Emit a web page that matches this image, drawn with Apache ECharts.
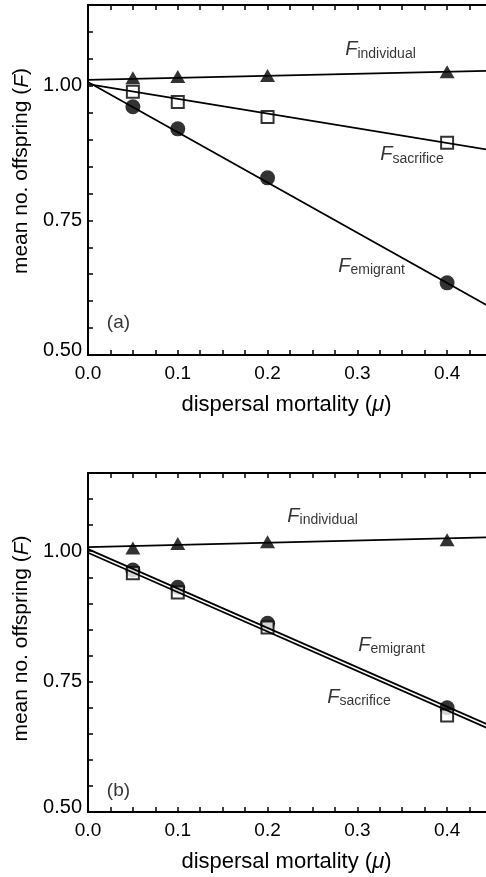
<!DOCTYPE html>
<html>
<head>
<meta charset="utf-8">
<script src="https://cdn.jsdelivr.net/npm/echarts@6/dist/echarts.min.js"></script>
<style>
  html, body { margin: 0; padding: 0; background: #fff; }
  #main { width: 486px; height: 877px; }
</style>
</head>
<body>
<div id="main"></div>
<script>
// dispersal mortality values where the simulations were run
var mu = [0.05, 0.1, 0.2, 0.4]

// panel (a)
var aIndividual = [1.015, 1.017, 1.019, 1.026]
var aSacrifice = [0.989, 0.970, 0.942, 0.894]
var aEmigrant = [0.961, 0.920, 0.829, 0.634]

// panel (b)
var bIndividual = [1.006, 1.015, 1.018, 1.022]
var bSacrifice = [0.958, 0.921, 0.854, 0.685]
var bEmigrant = [0.964, 0.931, 0.862, 0.700]

// fitted straight lines, value at mu = 0 and at mu = 0.45
var fitMu = [0, 0.45]
var aFitIndividual = [1.011, 1.028]
var aFitSacrifice = [1.003, 0.880]
var aFitEmigrant = [1.007, 0.587]
var bFitIndividual = [1.008, 1.027]
var bFitEmigrant = [1.004, 0.664]
var bFitSacrifice = [0.997, 0.657]

// curve labels: [mu, F, subscript]
var aTags = [[0.2865, 1.067, 'individual'], [0.3255, 0.872, 'sacrifice'], [0.2787, 0.665, 'emigrant']]
var bTags = [[0.222, 1.067, 'individual'], [0.301, 0.820, 'emigrant'], [0.2664, 0.720, 'sacrifice']]
var panelTags = [[0.021, 0.559, '(a)'], [0.021, 0.541, '(b)']]

var FONT = 'Liberation Sans, Arial, Helvetica, sans-serif'

function pairs (xs, ys) {
  var res = []
  for (var i = 0; i < xs.length; i++) res.push([xs[i], ys[i]])
  return res
}

function xFmt (v) {
  var k = v * 10
  return Math.abs(k - Math.round(k)) < 1e-6 ? v.toFixed(1) : ''
}
function yFmt (v) {
  var k = v * 4
  if (Math.abs(k - Math.round(k)) > 1e-6) return ''
  if (v < 0.51) return '{lo|' + v.toFixed(2) + '}'
  return v.toFixed(2)
}

function xAxisPair (grid) {
  var base = {
    gridIndex: grid,
    type: 'value',
    min: 0,
    max: 0.45,
    interval: 0.025,
    splitLine: { show: false },
    axisLine: { lineStyle: { color: '#000', width: 2 } },
    axisTick: { inside: true, length: 5, lineStyle: { color: '#000', width: 1.5 } }
  }
  var bottom = Object.assign({}, base, {
    position: 'bottom',
    name: 'dispersal mortality ({i|μ})',
    nameLocation: 'middle',
    nameGap: 39,
    nameTextStyle: {
      color: '#000', fontSize: 22, fontFamily: FONT, padding: [0, 7, 0, 0],
      rich: { i: { fontStyle: 'italic', fontSize: 22, fontFamily: FONT, color: '#000' } }
    },
    axisLabel: { formatter: xFmt, color: '#000', fontSize: 19, fontFamily: FONT, margin: 9 }
  })
  var top = Object.assign({}, base, { position: 'top', axisLabel: { show: false } })
  return [bottom, top]
}

function yAxisOf (grid, shift) {
  return {
    gridIndex: grid,
    type: 'value',
    min: 0.5,
    max: 1.15,
    interval: 0.05,
    splitLine: { show: false },
    axisLine: { lineStyle: { color: '#000', width: 2 } },
    axisTick: { inside: true, length: 5, lineStyle: { color: '#000', width: 1.5 } },
    axisLabel: {
      formatter: yFmt, color: '#000', fontSize: 20, fontFamily: FONT, margin: 6,
      rich: { lo: { fontSize: 20, fontFamily: FONT, color: '#000', padding: [0, 0, 9, 0] } }
    },
    name: 'mean no. offspring ({i|F})',
    nameLocation: 'middle',
    nameGap: 54,
    nameTextStyle: {
      color: '#000', fontSize: 21, fontFamily: FONT, padding: [0, 0, 0, shift],
      rich: { i: { fontStyle: 'italic', fontSize: 21, fontFamily: FONT, color: '#000' } }
    }
  }
}

function fitLine (grid, ys) {
  return {
    type: 'line', xAxisIndex: grid * 2, yAxisIndex: grid,
    data: pairs(fitMu, ys), symbol: 'none', silent: true,
    lineStyle: { color: '#000', width: 1.8 }
  }
}

function markers (grid, ys, kind) {
  var s = {
    type: 'scatter', xAxisIndex: grid * 2, yAxisIndex: grid,
    data: pairs(mu, ys), silent: true
  }
  if (kind === 'circle') {
    s.symbol = 'circle'; s.symbolSize = 15; s.itemStyle = { color: '#000' }
  } else if (kind === 'square') {
    s.symbol = 'rect'; s.symbolSize = 12; s.itemStyle = { color: '#fff', borderColor: '#000', borderWidth: 2 }
  } else {
    s.symbol = 'triangle'; s.symbolSize = [15, 13]; s.itemStyle = { color: '#000' }
  }
  return s
}

function tagSeries (grid, tags) {
  return {
    type: 'scatter', xAxisIndex: grid * 2, yAxisIndex: grid,
    symbolSize: 0, silent: true,
    data: tags.map(function (t) { return { value: [t[0], t[1]], sub: t[2] } }),
    label: {
      show: true, position: 'right', distance: 0,
      formatter: function (p) { return '{f|F}{s|' + p.data.sub + '}' },
      rich: {
        f: { fontStyle: 'italic', fontSize: 20, fontFamily: FONT, color: '#000', lineHeight: 22 },
        s: { fontSize: 14, fontFamily: FONT, color: '#000', lineHeight: 14, verticalAlign: 'bottom' }
      }
    }
  }
}

function panelTag (grid, t) {
  return {
    type: 'scatter', xAxisIndex: grid * 2, yAxisIndex: grid,
    symbolSize: 0, silent: true,
    data: [[t[0], t[1]]],
    label: { show: true, position: 'right', distance: 0, formatter: t[2], fontSize: 19, fontFamily: FONT, color: '#000' }
  }
}

var myChart = echarts.init(document.getElementById('main'))

myChart.setOption({
  animation: false,
  backgroundColor: '#fff',
  grid: [
    { left: 88, top: 5, width: 404, height: 350, outerBoundsMode: 'none' },
    { left: 88, top: 473, width: 404, height: 339, outerBoundsMode: 'none' }
  ],
  xAxis: xAxisPair(0).concat(xAxisPair(1)),
  yAxis: [yAxisOf(0, 18), yAxisOf(1, 8)],
  series: [
    fitLine(0, aFitIndividual),
    fitLine(0, aFitSacrifice),
    fitLine(0, aFitEmigrant),
    markers(0, aEmigrant, 'circle'),
    markers(0, aSacrifice, 'square'),
    markers(0, aIndividual, 'triangle'),
    tagSeries(0, aTags),
    panelTag(0, panelTags[0]),

    fitLine(1, bFitIndividual),
    fitLine(1, bFitEmigrant),
    fitLine(1, bFitSacrifice),
    markers(1, bEmigrant, 'circle'),
    markers(1, bSacrifice, 'square'),
    markers(1, bIndividual, 'triangle'),
    tagSeries(1, bTags),
    panelTag(1, panelTags[1])
  ]
})

window.addEventListener('resize', function () {
  myChart.resize()
})
</script>
</body>
</html>
